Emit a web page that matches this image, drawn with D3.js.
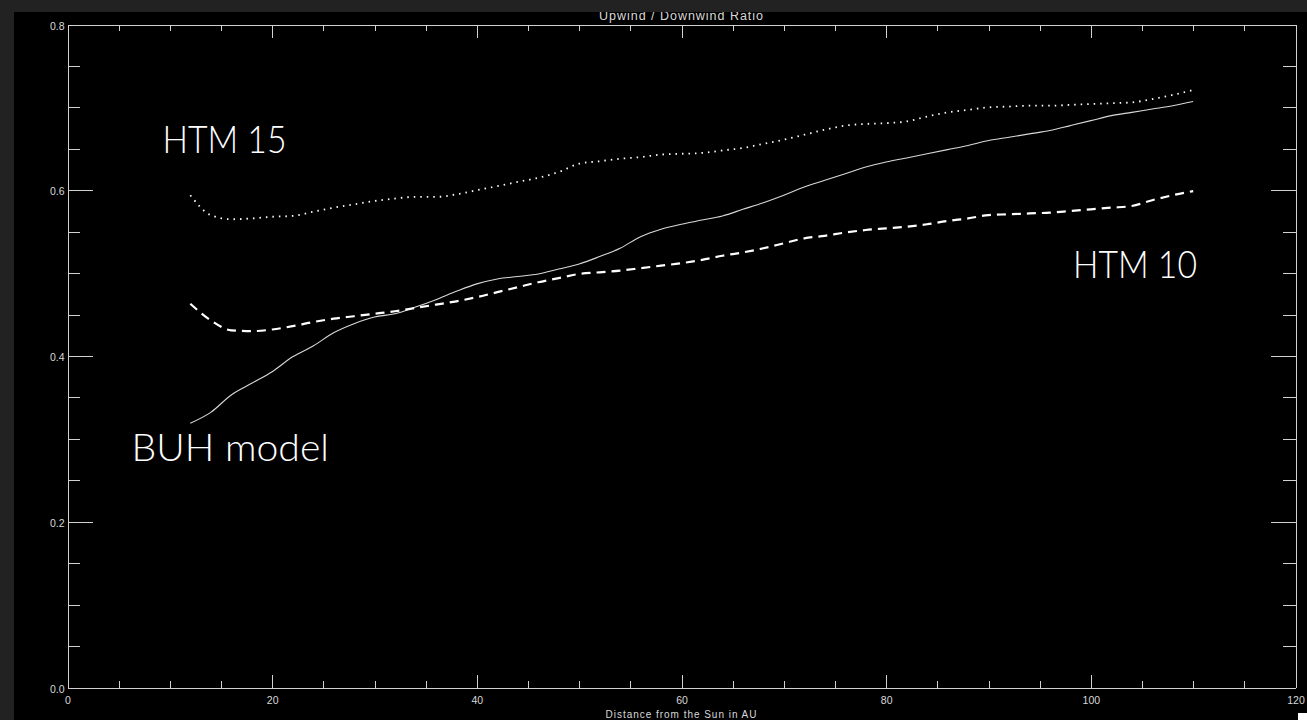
<!DOCTYPE html>
<html>
<head>
<meta charset="utf-8">
<script src="https://cdn.jsdelivr.net/npm/d3@7"></script>
<style>
  html, body { margin: 0; padding: 0; background: #222222; overflow: hidden; }
  svg { display: block; }
</style>
</head>
<body>
<svg id="chart" width="1307" height="720"></svg>
<script>
// Heliocentric distance (AU) at which each ratio is sampled
const distanceAU = [12,14,16,18,20,22,24,26,28,30,32,34,36,38,40,42,44,46,48,50,
  52,54,56,58,60,62,64,66,68,70,72,74,76,78,80,82,84,86,88,90,
  92,94,96,98,100,102,104,106,108,110];

// Upwind / downwind ratio, BUH model (solid)
const buhModel = [0.319,0.332,0.353,0.367,0.381,0.399,0.412,0.428,0.439,0.447,
  0.451,0.459,0.468,0.478,0.487,0.493,0.496,0.499,0.505,0.511,
  0.520,0.530,0.544,0.553,0.559,0.564,0.569,0.577,0.585,0.594,
  0.604,0.612,0.620,0.628,0.634,0.639,0.644,0.649,0.654,0.660,
  0.664,0.668,0.672,0.678,0.684,0.690,0.694,0.698,0.702,0.707];

// Upwind / downwind ratio, HTM 15 (dotted)
const htm15 = [0.594,0.570,0.565,0.566,0.568,0.569,0.574,0.579,0.583,0.587,
  0.590,0.592,0.592,0.595,0.600,0.605,0.610,0.615,0.622,0.632,
  0.635,0.638,0.640,0.643,0.644,0.645,0.648,0.651,0.656,0.661,
  0.667,0.673,0.678,0.680,0.681,0.683,0.689,0.694,0.697,0.700,
  0.701,0.702,0.702,0.703,0.704,0.705,0.706,0.710,0.715,0.721];

// Upwind / downwind ratio, HTM 10 (dashed)
const htm10 = [0.463,0.443,0.431,0.430,0.432,0.436,0.441,0.445,0.448,0.451,
  0.454,0.458,0.462,0.466,0.471,0.477,0.483,0.489,0.494,0.499,
  0.501,0.503,0.506,0.509,0.512,0.516,0.521,0.525,0.530,0.536,
  0.542,0.545,0.549,0.552,0.554,0.556,0.559,0.563,0.566,0.570,
  0.571,0.572,0.573,0.575,0.577,0.579,0.581,0.588,0.594,0.599];

const xMajorTicks = [0, 20, 40, 60, 80, 100, 120];
const yMajorTicks = [0.0, 0.2, 0.4, 0.6, 0.8];
const xMinorTicks = d3.range(0, 121, 5).filter(v => v % 20 !== 0);
const yMinorTicks = d3.range(0, 17).map(i => i * 0.05).filter((v, i) => i % 4 !== 0);

const chartTitle = "Upwind / Downwind Ratio";
const xTitle = "Distance from the Sun in AU";

(function draw() {
  const svg = d3.select("#chart");
  const W = 1307, H = 720;
  const plotLeft = 67.5, plotRight = 1295.5, plotTop = 24.5, plotBottom = 687.5;
  const axisColor = "#d2d2d2";
  const textColor = "#d8d8d8";

  // Black plotting window
  svg.append("rect").attr("x", 14).attr("y", 12).attr("width", W - 14).attr("height", H - 12).attr("fill", "#000");

  const x = d3.scaleLinear().domain([0, 120]).range([plotLeft, plotRight]);
  const y = d3.scaleLinear().domain([0, 0.8]).range([plotBottom, plotTop]);

  function styleAxis(g) {
    g.selectAll("path.domain").attr("stroke", axisColor).attr("stroke-width", 1).attr("shape-rendering", "crispEdges");
    g.selectAll(".tick line").attr("stroke", axisColor).attr("stroke-width", 1).attr("shape-rendering", "crispEdges");
    g.selectAll(".tick text").attr("fill", textColor)
      .attr("font-family", "Liberation Sans, Arial, sans-serif").attr("font-size", 10.5);
  }

  // Bottom axis with labels
  const gB = svg.append("g").attr("transform", `translate(0,${plotBottom})`)
    .call(d3.axisBottom(x).tickValues(xMajorTicks).tickSize(-13).tickSizeOuter(0)
      .tickPadding(0).tickFormat(d3.format("d")));
  gB.selectAll(".tick text").attr("y", 16).attr("dy", 0);
  styleAxis(gB);
  svg.append("g").attr("transform", `translate(0,${plotBottom})`)
    .call(d3.axisBottom(x).tickValues(xMinorTicks).tickSize(-6.5).tickSizeOuter(0).tickFormat(""))
    .call(g => { g.select("path.domain").remove(); styleAxis(g); });

  // Top axis
  const gT = svg.append("g").attr("transform", `translate(0,${plotTop})`)
    .call(d3.axisTop(x).tickValues(xMajorTicks).tickSize(-13.5).tickSizeOuter(0).tickFormat(""));
  styleAxis(gT);
  svg.append("g").attr("transform", `translate(0,${plotTop})`)
    .call(d3.axisTop(x).tickValues(xMinorTicks).tickSize(-6.5).tickSizeOuter(0).tickFormat(""))
    .call(g => { g.select("path.domain").remove(); styleAxis(g); });

  // Left axis with labels
  const gL = svg.append("g").attr("transform", `translate(${plotLeft},0)`)
    .call(d3.axisLeft(y).tickValues(yMajorTicks).tickSize(-25).tickSizeOuter(0)
      .tickPadding(0).tickFormat(d3.format(".1f")));
  gL.selectAll(".tick text").attr("x", -3).attr("dy", 0).attr("y", 4.5);
  styleAxis(gL);
  svg.append("g").attr("transform", `translate(${plotLeft},0)`)
    .call(d3.axisLeft(y).tickValues(yMinorTicks).tickSize(-12.7).tickSizeOuter(0).tickFormat(""))
    .call(g => { g.select("path.domain").remove(); styleAxis(g); });

  // Right axis
  const gR = svg.append("g").attr("transform", `translate(${plotRight},0)`)
    .call(d3.axisRight(y).tickValues(yMajorTicks).tickSize(-25).tickSizeOuter(0).tickFormat(""));
  styleAxis(gR);
  svg.append("g").attr("transform", `translate(${plotRight},0)`)
    .call(d3.axisRight(y).tickValues(yMinorTicks).tickSize(-12.7).tickSizeOuter(0).tickFormat(""))
    .call(g => { g.select("path.domain").remove(); styleAxis(g); });

  // Curves
  const line = d3.line().x((d, i) => x(distanceAU[i])).y(d => y(d)).curve(d3.curveMonotoneX);

  svg.append("path").datum(buhModel).attr("d", line)
    .attr("fill", "none").attr("stroke", "#d8d8d8").attr("stroke-width", 1.1);

  svg.append("path").datum(htm10).attr("d", line)
    .attr("fill", "none").attr("stroke", "#ffffff").attr("stroke-width", 2.2)
    .attr("stroke-dasharray", "9,6");

  svg.append("path").datum(htm15).attr("d", line)
    .attr("fill", "none").attr("stroke", "#ffffff").attr("stroke-width", 1.8)
    .attr("stroke-dasharray", "1.5,5");

  // Titles
  svg.append("text").attr("x", 681).attr("y", 19.5).attr("text-anchor", "middle")
    .attr("fill", textColor).attr("font-family", "Liberation Sans, Arial, sans-serif")
    .attr("font-size", 12.5).attr("textLength", 164).attr("lengthAdjust", "spacing")
    .text(chartTitle);

  svg.append("text").attr("x", 681).attr("y", 717.5).attr("text-anchor", "middle")
    .attr("fill", textColor).attr("font-family", "Liberation Sans, Arial, sans-serif")
    .attr("font-size", 10).attr("textLength", 151).attr("lengthAdjust", "spacing")
    .text(xTitle);

  // Series labels
  const seriesLabels = [
    { text: "HTM 15", x: 162.5, y: 152.5, w: 124 },
    { text: "BUH model", x: 131.5, y: 461, w: 197.5 },
    { text: "HTM 10", x: 1073, y: 277.5, w: 124 }
  ];
  svg.selectAll("text.series").data(seriesLabels).join("text")
    .attr("class", "series")
    .attr("x", d => d.x).attr("y", d => d.y)
    .attr("fill", "#ffffff").attr("font-family", "Lato, 'Open Sans', sans-serif")
    .attr("font-weight", 300).attr("font-size", 37)
    .attr("textLength", d => d.w).attr("lengthAdjust", "spacingAndGlyphs")
    .text(d => d.text);

  // Window frame bands along the top and left edges
  svg.append("rect").attr("x", 0).attr("y", 0).attr("width", W).attr("height", 12).attr("fill", "#222222");
  svg.append("rect").attr("x", 0).attr("y", 0).attr("width", 14).attr("height", H).attr("fill", "#222222");
  svg.append("rect").attr("x", 1298).attr("y", 713).attr("width", 9).attr("height", 7).attr("fill", "#ffffff");
})();
</script>
</body>
</html>
